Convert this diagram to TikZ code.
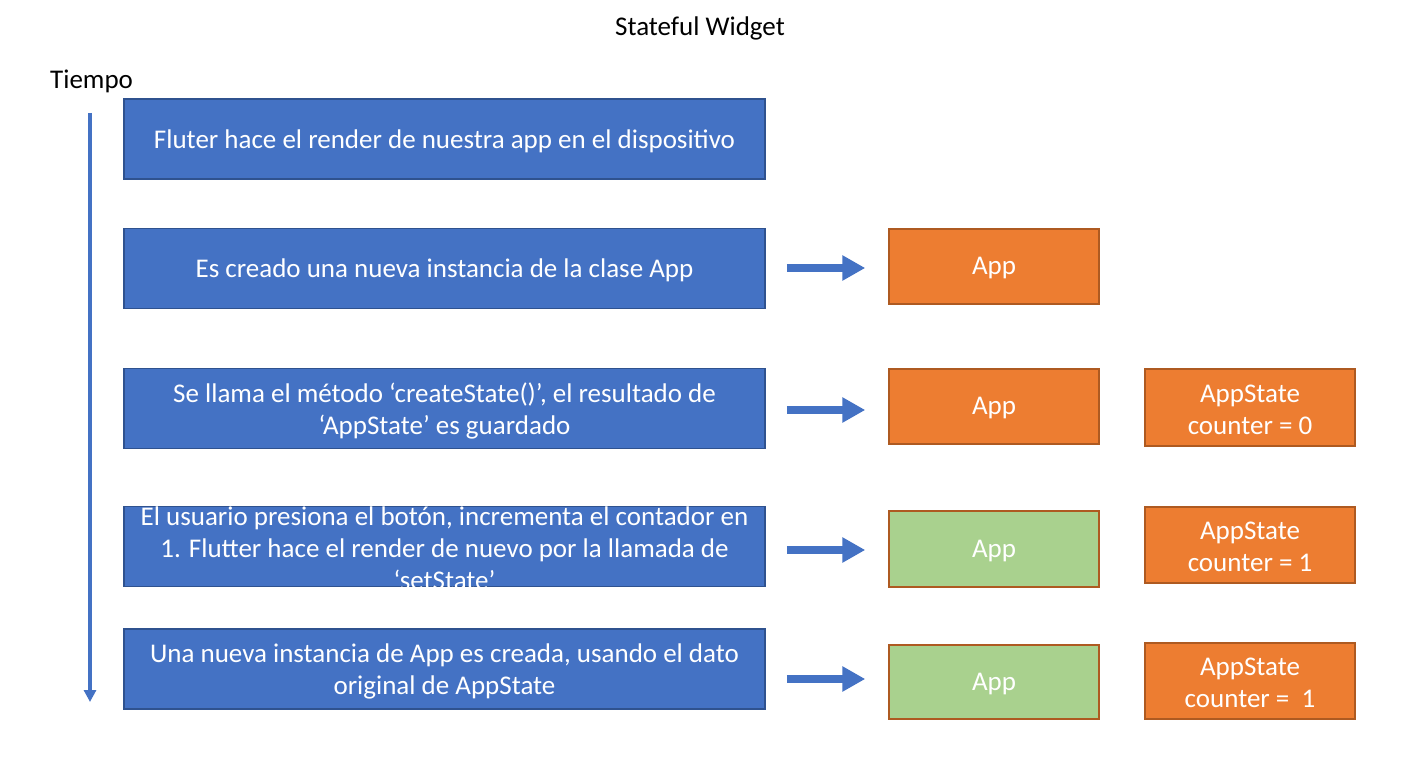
\documentclass[tikz,border=0pt]{standalone}
\usepackage{fontspec}
\setmainfont{Carlito}
\usetikzlibrary{arrows.meta}
\definecolor{bluefill}{HTML}{4472C4}
\definecolor{blueline}{HTML}{2F528F}
\definecolor{orangefill}{HTML}{ED7D31}
\definecolor{orangeline}{HTML}{AE5A21}
\definecolor{greenfill}{HTML}{A9D18E}
\tikzset{
  bluebox/.style={draw=blueline, fill=bluefill, line width=1.5pt, minimum width=641pt, minimum height=80pt, inner sep=0pt},
  boxtext/.style={text=white, font=\fontsize{27}{32}\selectfont, align=center, inner sep=0pt, yshift=-2pt},
  appbox/.style={draw=orangeline, fill=orangefill, line width=1.5pt, minimum width=210pt, minimum height=75pt, inner sep=0pt},
  greenbox/.style={appbox, fill=greenfill},
  bigarrow/.style={draw=bluefill, line width=8pt, -{Triangle[length=23pt,width=24pt]}, shorten <=21pt, shorten >=23pt},
  timearrow/.style={draw=bluefill, line width=3.5pt, -{Triangle[length=12pt,width=12pt]}},
  plaintext/.style={font=\fontsize{27}{32}\selectfont, inner sep=0pt}
}
\begin{document}
\begin{tikzpicture}[x=1pt,y=-1pt]
\useasboundingbox (0,0) rectangle (1412,762);
\node[plaintext] (title) at (700,28) {Stateful Widget};
\node[plaintext, anchor=west] (tiempo) at (50,81) {Tiempo};
\coordinate (ttop) at (90,113);
\coordinate (tbot) at (90,702);
\draw[timearrow] (ttop) -- (tbot);

\node[bluebox] (b1) at (444.5,139) {};
\node[boxtext] at (b1) {Fluter hace el render de nuestra app en el dispositivo};
\node[bluebox] (b2) at (444.5,268.5) {};
\node[boxtext] at (b2) {Es creado una nueva instancia de la clase App};
\node[bluebox] (b3) at (444.5,408.5) {};
\node[boxtext] at (b3) {Se llama el método ‘createState()’, el resultado de\\‘AppState’ es guardado};
\node[bluebox] (b4) at (444.5,546.5) {};
\node[boxtext] at (b4) {El usuario presiona el botón, incrementa el contador en\\1. Flutter hace el render de nuevo por la llamada de\\‘setState’};
\node[bluebox] (b5) at (444.5,669) {};
\node[boxtext] at (b5) {Una nueva instancia de App es creada, usando el dato\\original de AppState};

\node[appbox] (a2) at (994,266.5) {};
\node[boxtext] at (a2) {App};
\node[appbox] (a3) at (994,406.5) {};
\node[boxtext] at (a3) {App};
\node[greenbox, minimum height=76pt] (a4) at (994,549) {};
\node[boxtext] at (a4) {App};
\node[greenbox, minimum height=74pt] (a5) at (994,682) {};
\node[boxtext] at (a5) {App};

\node[appbox, minimum height=77pt] (s3) at (1250,407.5) {};
\node[boxtext] at (s3) {AppState\\counter = 0};
\node[appbox, minimum height=76pt] (s4) at (1250,545) {};
\node[boxtext] at (s4) {AppState\\counter = 1};
\node[appbox, minimum height=76pt] (s5) at (1250,681) {};
\node[boxtext] at (s5) {AppState\\counter = \ 1};

\draw[bigarrow] (b2.east |- 0,268) -- (a2.west |- 0,268);
\draw[bigarrow] (b3.east |- 0,410) -- (a3.west |- 0,410);
\draw[bigarrow] (b4.east |- 0,550) -- (a4.west |- 0,550);
\draw[bigarrow] (b5.east |- 0,679) -- (a5.west |- 0,679);
\end{tikzpicture}
\end{document}
